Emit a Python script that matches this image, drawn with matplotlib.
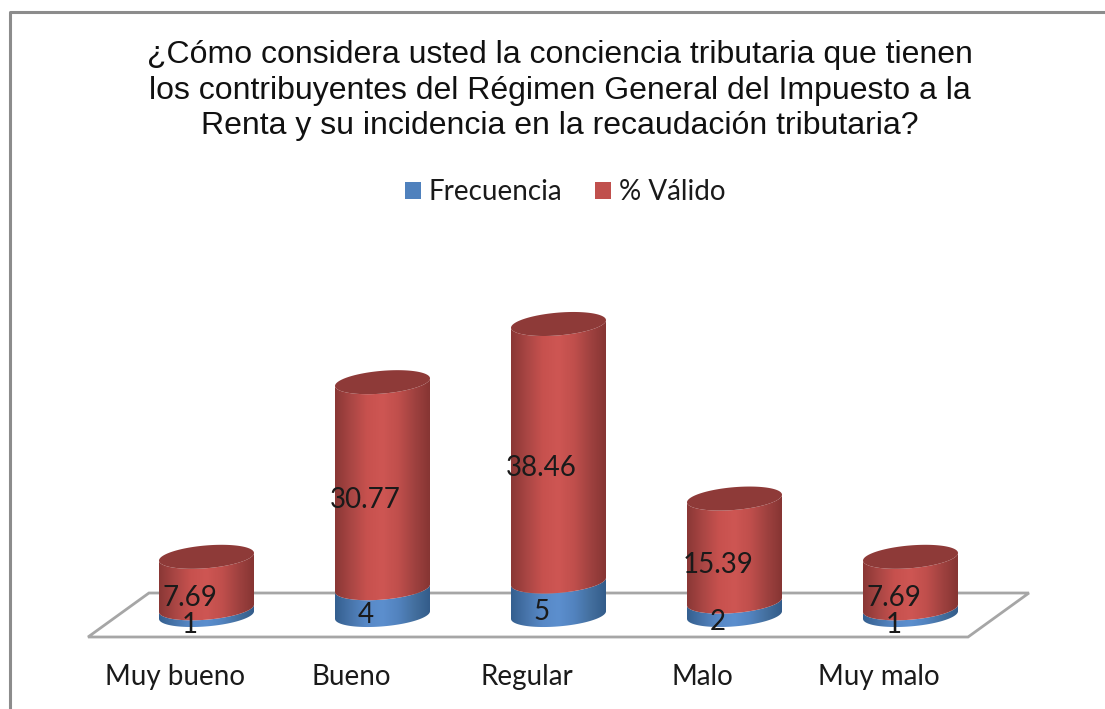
#!/usr/bin/env python3
"""Stacked 3D-look cylinder chart: conciencia tributaria, frecuencia and % valido."""
import numpy as np
import matplotlib
matplotlib.use('Agg')
import matplotlib.pyplot as plt
from matplotlib.colors import LinearSegmentedColormap
from matplotlib.patches import Patch, Polygon
from matplotlib.path import Path

categories = ['Muy bueno', 'Bueno', 'Regular', 'Malo', 'Muy malo']
frecuencia = [1, 4, 5, 2, 1]
valido = [7.69, 30.77, 38.46, 15.39, 7.69]
labels_valido = ['7.69', '30.77', '38.46', '15.39', '7.69']
title = ('¿Cómo considera usted la conciencia tributaria que tienen\n'
         'los contribuyentes del Régimen General del Impuesto a la\n'
         'Renta y su incidencia en la recaudación tributaria?')

W, H = 1105, 709
PX_X, PX_Y = 176.0, 6.696    # pixels per category / per value unit
X0_PX, Y0_PX = 206.5, 615.0  # where category 0 / value 0 land in the image

HALF_W = 47.5 / PX_X
ELL_B = 11.4 / PX_Y
ELL_TILT = 3.8 / PX_Y

GREY = '#8c8c8c'
TEXT = '#1a1a1a'
red_cmap = LinearSegmentedColormap.from_list(
    'red', ['#8a3735', '#a94644', '#c7514e', '#ce5653', '#c04f4c', '#a04240', '#863533'])
blue_cmap = LinearSegmentedColormap.from_list(
    'blue', ['#345f8f', '#4875ab', '#5889c7', '#5c8fce', '#5283bf', '#44709f', '#335c8a'])
CAP_RED = '#8e3a38'


def front_arc(x, y):
    t = np.linspace(0, np.pi, 60)
    return x + HALF_W * np.cos(t), y + ELL_TILT * np.cos(t) - ELL_B * np.sin(t)


def cylinder_part(ax, x, y0, y1, cmap):
    xa, ya = front_arc(x, y0)
    xb, yb = front_arc(x, y1)
    verts = np.column_stack([np.r_[xa, xb[::-1]], np.r_[ya, yb[::-1]]])
    verts = np.vstack([verts, verts[0]])
    grad = np.linspace(0, 1, 256).reshape(1, -1)
    im = ax.imshow(grad, cmap=cmap, aspect='auto', zorder=3, interpolation='bilinear',
                   extent=(x - HALF_W, x + HALF_W, y0 - 3 * ELL_B, y1 + 3 * ELL_B))
    im.set_clip_path(Path(verts), transform=ax.transData)


fig = plt.figure(figsize=(W / 100, H / 100), dpi=100, facecolor='white')
ax = fig.add_axes([0, 0, 1, 1])
ax.axis('off')

# outer chart border, only top and left are inside the crop
fig.add_artist(plt.Line2D([10 / W, 10 / W, 1], [0, 1 - 11.5 / H, 1 - 11.5 / H],
                          color=GREY, lw=2.2))

# floor of the 3D plot
shear = 0.173
floor_h = 22.0 / PX_Y
n = len(categories)
ax.add_patch(Polygon([(-0.5 - shear, -floor_h), (-0.5 + shear, floor_h),
                      (n - 0.5 + shear, floor_h), (n - 0.5 - shear, -floor_h)],
                     closed=True, facecolor='white', edgecolor='#a6a6a6', lw=2, zorder=1))

for i, (f, v) in enumerate(zip(frecuencia, valido)):
    cylinder_part(ax, i, 0, f, blue_cmap)
    cylinder_part(ax, i, f, f + v, red_cmap)
    t = np.linspace(0, 2 * np.pi, 120)
    ax.fill(i + HALF_W * np.cos(t), f + v + ELL_TILT * np.cos(t) + ELL_B * np.sin(t),
            color=CAP_RED, lw=0, zorder=4)

    ax.text(i - 0.095, f + v / 2 - 2.25, labels_valido[i], ha='center', va='center',
            fontsize=20, family='Lato', color=TEXT, zorder=5)
    ax.text(i - 0.095, f / 2 - 2.05, str(f), ha='center', va='center',
            fontsize=20, family='Lato', color=TEXT, zorder=5)
    ax.text(i - 0.18, -9.2, categories[i], ha='center', va='center',
            fontsize=20, family='Lato', color=TEXT, zorder=5)

ax.set_xlim(-X0_PX / PX_X, (W - X0_PX) / PX_X)
ax.set_ylim((Y0_PX - H) / PX_Y, Y0_PX / PX_Y)

fig.text(560 / W, 1 - 90.5 / H, title, ha='center', va='center', fontsize=23,
         family='Liberation Sans', color='#111111', linespacing=1.25)

handles = [Patch(facecolor='#4f81bd', label='Frecuencia'),
           Patch(facecolor='#c0504d', label='% Válido')]
fig.legend(handles=handles, loc='center', bbox_to_anchor=(565 / W, 1 - 192 / H), ncol=2,
           frameon=False, prop={'family': 'Lato', 'size': 20}, labelcolor=TEXT,
           handlelength=0.58, handleheight=0.55, handletextpad=0.3, columnspacing=1.15)

fig.savefig('out.png', dpi=100)
